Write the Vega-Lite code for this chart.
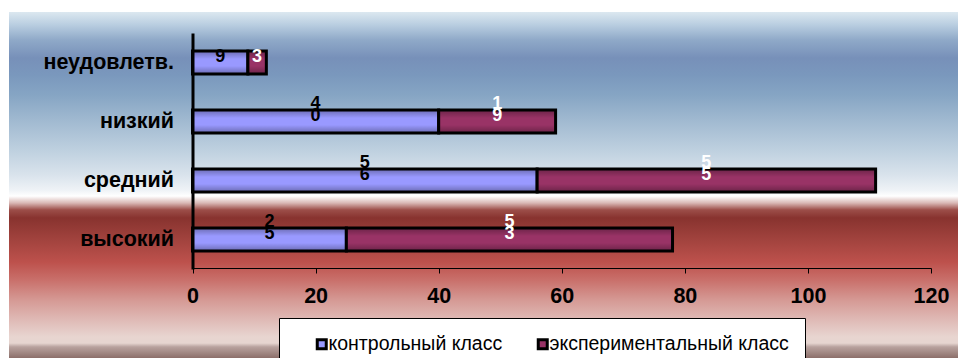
{
  "$schema": "https://vega.github.io/schema/vega-lite/v6.json",
  "width": 949,
  "height": 346,
  "autosize": {"type": "none"},
  "padding": {"left": 9, "top": 12, "right": 0, "bottom": 0},
  "background": "white",
  "view": {"stroke": null},
  "config": {"font": "Liberation Sans"},
  "layer": [
    {
      "data": {"values": [{}]},
      "mark": {
        "type": "rect",
        "color": {
          "gradient": "linear", "x1": 0, "y1": 0, "x2": 0, "y2": 1,
          "stops": [
            {"offset": 0, "color": "#dce8f0"},
            {"offset": 0.038, "color": "#b8cde0"},
            {"offset": 0.081, "color": "#8fa9c8"},
            {"offset": 0.133, "color": "#7790b9"},
            {"offset": 0.182, "color": "#7a98bd"},
            {"offset": 0.24, "color": "#86a5c4"},
            {"offset": 0.312, "color": "#a0b9d0"},
            {"offset": 0.399, "color": "#bed0df"},
            {"offset": 0.471, "color": "#d9e3ec"},
            {"offset": 0.514, "color": "#eef2f6"},
            {"offset": 0.532, "color": "#ffffff"},
            {"offset": 0.552, "color": "#d9b8b5"},
            {"offset": 0.572, "color": "#9c4e49"},
            {"offset": 0.595, "color": "#88332f"},
            {"offset": 0.659, "color": "#a2433e"},
            {"offset": 0.723, "color": "#bd514c"},
            {"offset": 0.775, "color": "#c9706b"},
            {"offset": 0.832, "color": "#d59994"},
            {"offset": 0.89, "color": "#dfbab6"},
            {"offset": 0.939, "color": "#e8d5d0"},
            {"offset": 0.957, "color": "#e6d5d0"},
            {"offset": 0.968, "color": "#b8a29e"},
            {"offset": 1, "color": "#8c6f6a"}
          ]
        }
      },
      "encoding": {}
    },
    {
      "data": {
        "values": [
          {"level": "неудовлетв.", "series": "контрольный класс", "value": 9},
          {"level": "неудовлетв.", "series": "экспериментальный класс", "value": 3},
          {"level": "низкий", "series": "контрольный класс", "value": 40},
          {"level": "низкий", "series": "экспериментальный класс", "value": 19},
          {"level": "средний", "series": "контрольный класс", "value": 56},
          {"level": "средний", "series": "экспериментальный класс", "value": 55},
          {"level": "высокий", "series": "контрольный класс", "value": 25},
          {"level": "высокий", "series": "экспериментальный класс", "value": 53}
        ]
      },
      "transform": [
        {"stack": "value", "groupby": ["level"], "sort": [{"field": "series", "order": "ascending"}], "as": ["x0", "x1"]},
        {"calculate": "(datum.x0 + datum.x1) / 2", "as": "mid"},
        {"calculate": "datum.value < 10 ? [' ', toString(datum.value)] : split(toString(datum.value), '')", "as": "label"}
      ],
      "encoding": {
        "y": {
          "field": "level",
          "type": "nominal",
          "sort": ["неудовлетв.", "низкий", "средний", "высокий"],
          "scale": {"range": [21, 257], "paddingInner": 0.61, "paddingOuter": 0.305},
          "axis": {
            "title": null,
            "zindex": 2,
            "offset": -183.5,
            "ticks": false,
            "tickSize": 0,
            "labelPadding": 19,
            "labelFont": "Liberation Sans",
            "labelFontSize": 21.5,
            "labelFontWeight": "bold",
            "labelColor": "black",
            "domainColor": "black",
            "domainWidth": 3,
            "grid": false
          }
        }
      },
      "layer": [
        {
          "mark": {"type": "bar", "stroke": "black", "strokeWidth": 3},
          "encoding": {
            "x": {
              "field": "x0",
              "type": "quantitative",
              "title": null,
              "scale": {"domain": [0, 120], "range": [183.5, 922], "nice": false, "zero": true},
              "axis": {
                "title": null,
                "zindex": 1,
                "offset": -90,
                "values": [0, 20, 40, 60, 80, 100, 120],
                "labelFlush": false,
                "labelOverlap": false,
                "grid": false,
                "domainColor": "black",
                "domainWidth": 1,
                "tickColor": "black",
                "tickWidth": 1,
                "tickSize": 5,
                "labelPadding": 12,
                "labelFont": "Liberation Sans",
                "labelFontSize": 21.5,
                "labelFontWeight": "bold",
                "labelColor": "black"
              }
            },
            "x2": {"field": "x1"},
            "color": {
              "field": "series",
              "type": "nominal",
              "scale": {"domain": ["контрольный класс", "экспериментальный класс"], "range": ["#9999ff", "#993366"]},
              "legend": {
                "title": null,
                "orient": "none",
                "direction": "horizontal",
                "legendX": 270,
                "legendY": 306,
                "fillColor": "white",
                "strokeColor": "black",
                "padding": 16,
                "symbolOffset": 17,
                "symbolType": "square",
                "symbolSize": 81,
                "symbolStrokeColor": "black",
                "symbolStrokeWidth": 3,
                "labelOffset": -3,
                "columnPadding": 13,
                "labelFont": "Liberation Sans",
                "labelFontSize": 19.5,
                "labelColor": "black",
                "labelLimit": 400
              }
            }
          }
        },
        {
          "mark": {
            "type": "bar",
            "strokeWidth": 0,
            "color": {
              "gradient": "linear", "x1": 0, "y1": 0, "x2": 0, "y2": 1,
              "stops": [
                {"offset": 0, "color": "rgba(0,0,0,0.3)"},
                {"offset": 0.35, "color": "rgba(0,0,0,0)"},
                {"offset": 0.65, "color": "rgba(0,0,0,0)"},
                {"offset": 1, "color": "rgba(0,0,0,0.3)"}
              ]
            }
          },
          "encoding": {
            "x": {"field": "x0", "type": "quantitative", "title": null},
            "x2": {"field": "x1"}
          }
        },
        {
          "mark": {"type": "text", "font": "Liberation Sans", "fontSize": 18, "fontWeight": "bold", "baseline": "bottom", "lineHeight": 12, "dy": -9},
          "encoding": {
            "x": {"field": "mid", "type": "quantitative", "title": null},
            "text": {"field": "label"},
            "color": {
              "condition": {"test": "datum.series === 'экспериментальный класс'", "value": "white"},
              "value": "black"
            }
          }
        }
      ]
    }
  ]
}
